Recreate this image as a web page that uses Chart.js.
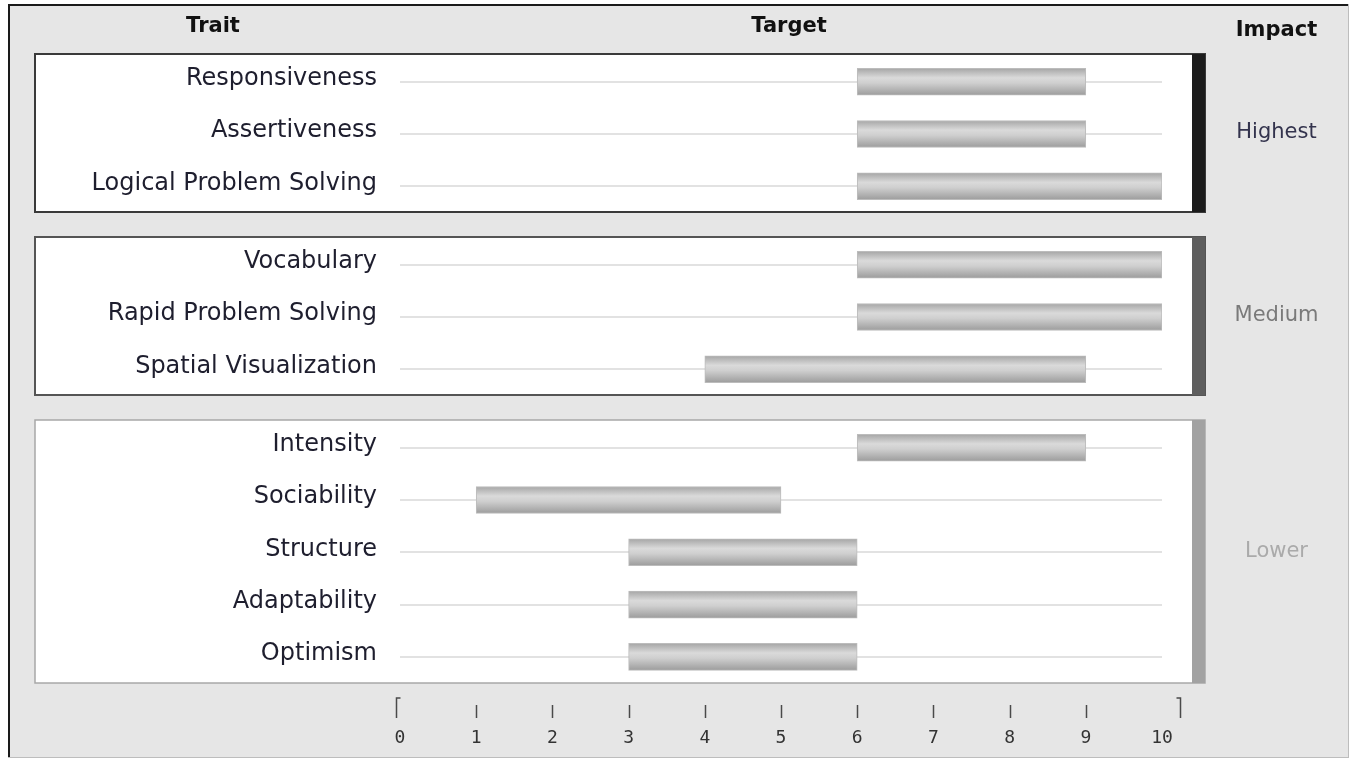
<!DOCTYPE html>
<html>
<head>
<meta charset="utf-8">
<script src="https://cdn.jsdelivr.net/npm/chart.js@4.4.0/dist/chart.umd.min.js"></script>
<style>
  body { margin: 0; background: #fff; }
  canvas { display: block; }
</style>
</head>
<body>
<canvas id="traitChart" width="1354" height="761"></canvas>
<script>
// ---------- DATA ----------
const traits = ['Responsiveness', 'Assertiveness', 'Logical Problem Solving',
  'Vocabulary', 'Rapid Problem Solving', 'Spatial Visualization',
  'Intensity', 'Sociability', 'Structure', 'Adaptability', 'Optimism'];
const traitGroup = [0, 0, 0, 1, 1, 1, 2, 2, 2, 2, 2];
const targetLow  = [6, 6, 6, 6, 6, 4, 6, 1, 3, 3, 3];
const targetHigh = [9, 9, 10, 10, 10, 9, 9, 5, 6, 6, 6];
const impactLevels = ['Highest', 'Medium', 'Lower'];
const xTicks = [0, 1, 2, 3, 4, 5, 6, 7, 8, 9, 10];

// ---------- STYLE ----------
const impactStrip = ['#1c1c1c', '#5e5e5e', '#a2a2a2'];
const impactText = ['#33334d', '#7a7a7a', '#aaaaaa'];
const boxBorder = ['#3a3a3a', '#555555', '#a8a8a8'];
const GROUP_GAP = 0.5;
const FONT = '"DejaVu Sans", Verdana, sans-serif';

// row position on the y scale: one unit per trait, extra gap between groups
const rowPos = traits.map((t, i) => i + traitGroup[i] * GROUP_GAP);

function barGradient(ctx) {
    const chart = ctx.chart;
    if (!chart.chartArea || !ctx.raw) return '#c8c8c8';
    const y = chart.scales.y.getPixelForValue(ctx.raw.y);
    const g = chart.ctx.createLinearGradient(0, y - 13, 0, y + 13);
    g.addColorStop(0, '#a8a8a8');
    g.addColorStop(0.35, '#dadada');
    g.addColorStop(0.55, '#cfcfcf');
    g.addColorStop(1, '#9e9e9e');
    return g;
}

const framePlugin = {
    id: 'frame',
    beforeDraw(chart) {
        const c = chart.ctx, W = chart.width, H = chart.height;
        const x = chart.scales.x, y = chart.scales.y, area = chart.chartArea;
        c.save();
        // panel
        c.fillStyle = '#e6e6e6';
        c.fillRect(9, 5, W - 15, H - 8);
        c.fillStyle = '#1a1a1a';
        c.fillRect(8, 4, 2, H - 7);
        c.fillRect(8, 4, W - 13, 2);
        c.fillStyle = '#bdbdbd';
        c.fillRect(W - 6, 4, 1, H - 7);
        c.fillRect(8, H - 4, W - 13, 1);

        // group boxes
        const boxL = area.left - 365, boxR = area.right + 43;
        impactLevels.forEach((lvl, g) => {
            const idx = traitGroup.map((v, i) => v === g ? i : -1).filter(i => i >= 0);
            const top = Math.round(y.getPixelForValue(rowPos[idx[0]] - 0.53));
            const bot = Math.round(y.getPixelForValue(rowPos[idx[idx.length - 1]] + 0.5));
            c.fillStyle = '#ffffff';
            c.fillRect(boxL, top, boxR - boxL, bot - top);
            c.strokeStyle = boxBorder[g];
            c.lineWidth = g === 2 ? 1.5 : 2;
            c.strokeRect(boxL, top, boxR - boxL, bot - top);
            c.fillStyle = impactStrip[g];
            c.fillRect(boxR - 13, top, 13, bot - top);
            // impact label
            c.fillStyle = impactText[g];
            c.font = '21px ' + FONT;
            c.textAlign = 'center';
            c.textBaseline = 'middle';
            c.fillText(lvl, (boxR + W - 6) / 2, (top + bot) / 2);
        });

        // row guide lines
        c.fillStyle = '#e2e2e2';
        rowPos.forEach(p => {
            const py = Math.round(y.getPixelForValue(p));
            c.fillRect(x.getPixelForValue(0), py - 1, x.getPixelForValue(10) - x.getPixelForValue(0), 2);
        });
        c.restore();
    },
    afterDraw(chart) {
        const c = chart.ctx, W = chart.width;
        const x = chart.scales.x, y = chart.scales.y, area = chart.chartArea;
        c.save();
        // trait labels
        c.fillStyle = '#1e1e2e';
        c.font = '24px ' + FONT;
        c.textAlign = 'right';
        c.textBaseline = 'middle';
        traits.forEach((t, i) => {
            c.fillText(t, area.left - 23, y.getPixelForValue(rowPos[i]) - 3);
        });
        // headers
        c.font = 'bold 21px ' + FONT;
        c.fillStyle = '#111';
        c.textAlign = 'center';
        c.fillText('Trait', 213, 27);
        c.fillText('Target', 789, 27);
        c.fillText('Impact', (area.right + 43 + W - 6) / 2, 31);

        // axis tick marks
        c.strokeStyle = '#4a4a4a';
        c.lineWidth = 1.5;
        const t0 = area.bottom + 22, t1 = area.bottom + 35;
        xTicks.forEach(v => {
            let px = Math.round(x.getPixelForValue(v)) + 0.5;
            c.beginPath();
            if (v === xTicks[0]) {
                px -= 4;
                c.moveTo(px + 4, t0 - 7); c.lineTo(px, t0 - 7); c.lineTo(px, t1);
            } else if (v === xTicks[xTicks.length - 1]) {
                px += 18;
                c.moveTo(px - 4, t0 - 7); c.lineTo(px, t0 - 7); c.lineTo(px, t1);
            } else {
                c.moveTo(px, t0); c.lineTo(px, t1);
            }
            c.stroke();
        });
        c.restore();
    }
};

new Chart(document.getElementById('traitChart'), {
    type: 'bar',
    data: {
        datasets: [{
            label: 'Target',
            data: traits.map((t, i) => ({ x: [targetLow[i], targetHigh[i]], y: rowPos[i] })),
            backgroundColor: barGradient,
            borderColor: '#bcbcbc',
            borderWidth: 1,
            borderSkipped: false,
            barThickness: 27
        }]
    },
    options: {
        indexAxis: 'y',
        responsive: false,
        animation: false,
        devicePixelRatio: 1,
        layout: { padding: { left: 400, right: 192, top: 54, bottom: 12 } },
        scales: {
            x: {
                type: 'linear', min: 0, max: 10,
                offset: false,
                grid: { display: false, drawTicks: false },
                border: { display: false },
                afterFit: (scale) => { scale.height = 66; },
                ticks: {
                    stepSize: 1,
                    padding: 45,
                    color: '#333',
                    font: { family: '"DejaVu Sans Mono", monospace', size: 18 },
                    callback: (v) => xTicks.includes(v) ? String(v) : ''
                }
            },
            y: {
                type: 'linear',
                min: -0.53,
                max: rowPos[rowPos.length - 1] + 0.5,
                reverse: true,
                offset: false,
                display: false
            }
        },
        plugins: { legend: { display: false }, tooltip: { enabled: false } }
    },
    plugins: [framePlugin]
});
</script>
</body>
</html>
